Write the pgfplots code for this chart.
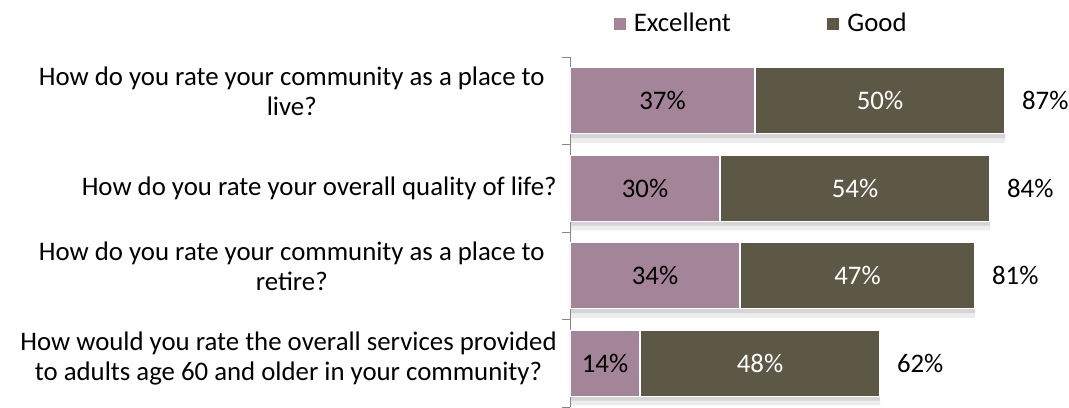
\documentclass[border=0pt]{standalone}
\usepackage{pgfplots}
\pgfplotsset{compat=1.18}
\usepackage{pgfplotstable}
\usepackage{fontspec}
\setmainfont{Carlito}

\definecolor{exc}{HTML}{A48498}
\definecolor{good}{HTML}{5D5845}
\definecolor{axisgray}{HTML}{868686}

% y = category index, top to bottom
\pgfplotstableread{
y exc good tot
0 37 50 87
1 30 54 84
2 34 47 81
3 14 48 62
}\ratings

\newcommand{\lbl}{\fontsize{13.4}{15}\selectfont}
% two-line question, lifted a little above its bar
\newcommand{\twoline}[3]{\raisebox{#1}[0pt][0pt]{\begin{tabular}{@{}c@{}}#2\\#3\end{tabular}}}

\pgfplotsset{
  base/.style={
    width=250pt, height=175pt, scale only axis,
    xmin=0, xmax=100, ymin=-0.5, ymax=3.5, y dir=reverse,
  },
}

\begin{document}
\begin{tikzpicture}
% soft shadow under the bars
\begin{axis}[base, hide axis, xbar, bar width=33pt, bar shift=0pt]
  \addplot[fill=black, fill opacity=0.07, draw=none, yshift=-4.5pt] table[x=tot,y=y] {\ratings};
  \addplot[fill=black, fill opacity=0.10, draw=none, yshift=-2.2pt] table[x=tot,y=y] {\ratings};
\end{axis}

\begin{axis}[base,
    name=main,
    xbar stacked, bar width=33pt,
    axis x line=none,
    axis y line=left,
    y axis line style={axisgray, -},
    ytick={0,1,2,3},
    yticklabels={
      {\twoline{-0.3pt}{How do you rate your community as a place to}{live?}\hspace*{6pt}},
      {\hspace*{-1pt}How do you rate your overall quality of life?},
      {\twoline{-0.3pt}{How do you rate your community as a place to}{retire?}\hspace*{6pt}},
      {\twoline{-1.8pt}{How would you rate the overall services provided}{to adults age 60 and older in your community?}}
    },
    major tick length=0pt,
    minor ytick={-0.5,0.5,1.5,2.5,3.5},
    minor tick length=4pt,
    tick align=outside,
    minor tick style={axisgray},
    yticklabel style={font=\lbl, inner sep=0pt, xshift=-6.5pt},
    legend style={at={(0.382,1.095)}, anchor=center, draw=none, font=\lbl,
      nodes={inner sep=1.5pt},
      /tikz/every even column/.append style={column sep=46pt}},
    legend columns=2,
    legend image code/.code={\fill[#1] (0pt,-3.3pt) rectangle (6.6pt,3.3pt);},
    /tikz/every odd column/.append style={column sep=2pt},
  ]
  \addplot[fill=exc, draw=white, line width=0.6pt] table[x=exc,y=y] {\ratings};
  \addplot[fill=good, draw=white, line width=0.6pt] table[x=good,y=y] {\ratings};
  \legend{Excellent, Good}
\end{axis}

% value labels
\begin{axis}[base, hide axis]
  \addplot[draw=none, mark=none, point meta=explicit symbolic,
    nodes near coords={\pgfplotspointmeta\%},
    every node near coord/.append style={anchor=center, font=\lbl, text=black}]
    table[x expr=\thisrow{exc}/2, y=y, meta=exc] {\ratings};
  \addplot[draw=none, mark=none, point meta=explicit symbolic,
    nodes near coords={\pgfplotspointmeta\%},
    every node near coord/.append style={anchor=center, font=\lbl, text=white}]
    table[x expr=\thisrow{exc}+\thisrow{good}/2, y=y, meta=good] {\ratings};
  \addplot[draw=none, mark=none, point meta=explicit symbolic,
    nodes near coords={\pgfplotspointmeta\%},
    every node near coord/.append style={anchor=west, font=\lbl, text=black, xshift=5pt}]
    table[x=tot, y=y, meta=tot] {\ratings};
\end{axis}

\pgfresetboundingbox
\path ([xshift=-285pt]main.south west) rectangle ([xshift=-0.5pt,yshift=28.5pt]main.north east);
\end{tikzpicture}
\end{document}
